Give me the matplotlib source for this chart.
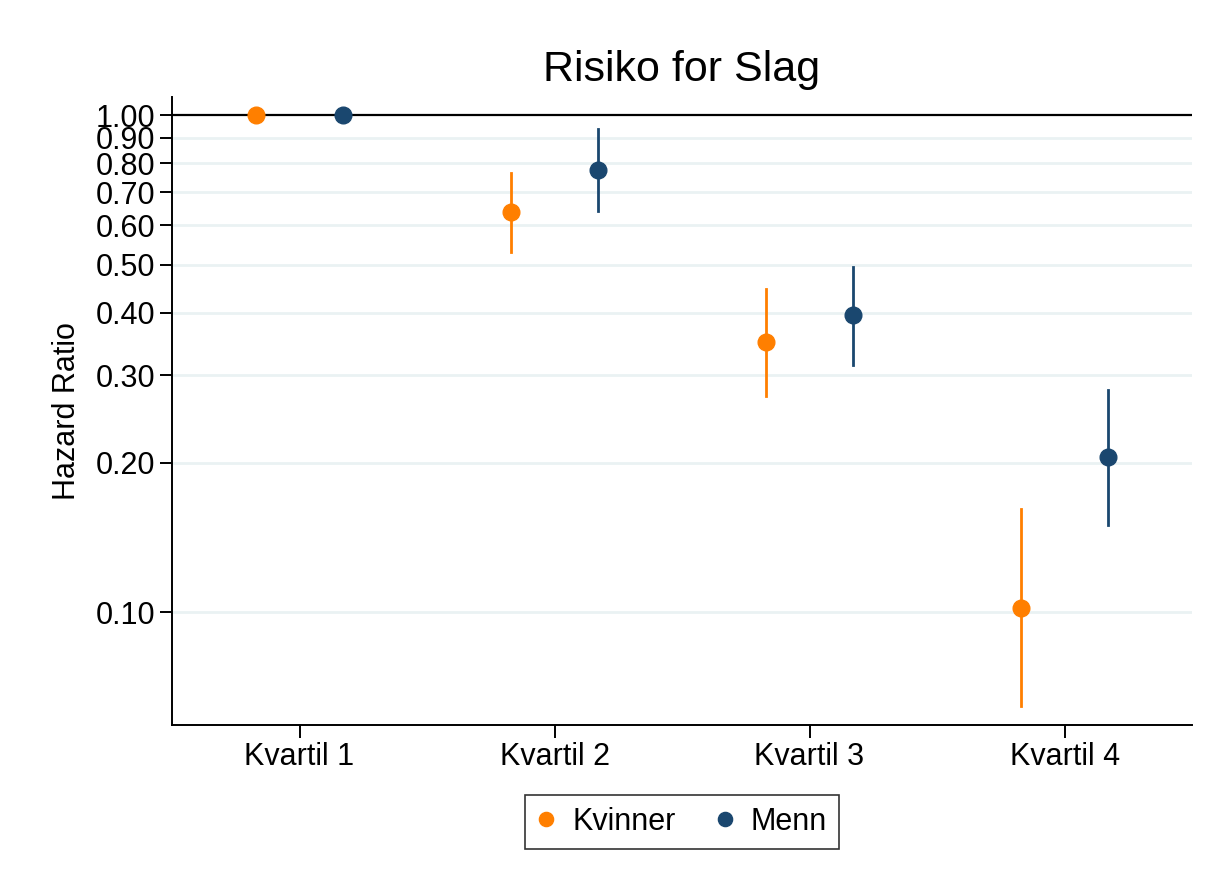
import matplotlib
matplotlib.use("Agg")
import matplotlib.pyplot as plt
from matplotlib.ticker import FixedLocator, NullLocator

plt.rcParams['font.family'] = ['Liberation Sans', 'DejaVu Sans']

categories = ["Kvartil 1", "Kvartil 2", "Kvartil 3", "Kvartil 4"]
kvinner_hr = [1.00, 0.638, 0.349, 0.102]
kvinner_lo = [1.00, 0.530, 0.272, 0.0647]
kvinner_hi = [1.00, 0.764, 0.447, 0.161]
menn_hr = [1.00, 0.775, 0.396, 0.205]
menn_lo = [1.00, 0.641, 0.315, 0.150]
menn_hi = [1.00, 0.937, 0.494, 0.280]
yticks = [0.10, 0.20, 0.30, 0.40, 0.50, 0.60, 0.70, 0.80, 0.90, 1.00]

c_k = "#FF7F00"
c_m = "#1A476F"

fig = plt.figure(figsize=(12.09, 8.84), dpi=100)
ax = fig.add_axes([0.1423, 0.180, 0.8437, 0.710])

x = list(range(1, len(categories) + 1))
off = 0.169

for g, (hr, lo, hi, col, lab) in enumerate([
        (kvinner_hr, kvinner_lo, kvinner_hi, c_k, "Kvinner"),
        (menn_hr, menn_lo, menn_hi, c_m, "Menn")]):
    xs = [xi + (off if g else -off) for xi in x]
    for xi, l, h in zip(xs, lo, hi):
        if h > l:
            ax.plot([xi, xi], [l, h], color=col, lw=2, zorder=3)
    ax.plot(xs, hr, 'o', color=col, ms=12, zorder=4, label=lab, linestyle='none')

ax.axhline(1.0, color='black', lw=1.6, zorder=2)
ax.set_yscale('log')
ax.set_ylim(0.0593, 1.087)
ax.set_xlim(0.5, 4.5)
ax.yaxis.set_major_locator(FixedLocator(yticks))
ax.yaxis.set_minor_locator(NullLocator())
ax.set_yticklabels([f"{v:.2f}" for v in yticks])
ax.set_xticks(x)
ax.set_xticklabels(categories)
for v in yticks:
    if v != 1.0:
        ax.axhline(v, color="#EAF2F3", lw=2, zorder=1)

ax.spines['top'].set_visible(False)
ax.spines['right'].set_visible(False)
ax.spines['left'].set_linewidth(1.4)
ax.spines['bottom'].set_linewidth(1.4)
ax.tick_params(axis='both', direction='out', length=9, width=1.4, labelsize=22, pad=3)
ax.set_ylabel("Hazard Ratio", fontsize=22, labelpad=10)
ax.set_title("Risiko for Slag", fontsize=31, pad=12)

leg = ax.legend(loc='upper center', bbox_to_anchor=(0.5, -0.087), ncol=2, fontsize=22,
                frameon=True, fancybox=False, edgecolor='black', handletextpad=0.55,
                columnspacing=1.3, markerscale=0.85, borderpad=0.4, handlelength=0.6,
                borderaxespad=0.5)
leg.get_frame().set_linewidth(1.2)

fig.savefig("out.png", dpi=100, facecolor='white')
